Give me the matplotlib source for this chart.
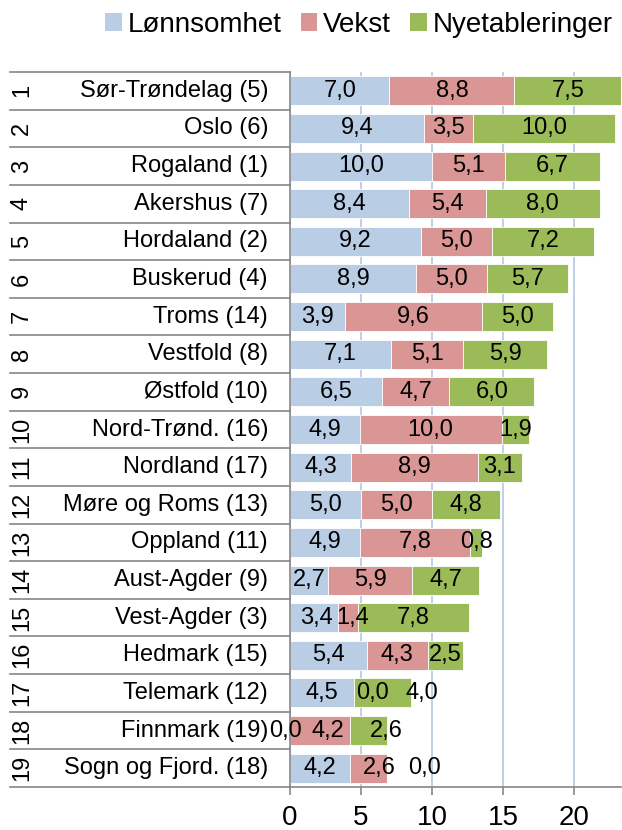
import matplotlib
matplotlib.use('Agg')
import matplotlib.pyplot as plt
from matplotlib.patches import Patch
from matplotlib.transforms import blended_transform_factory

plt.rcParams['font.family'] = ['Liberation Sans', 'DejaVu Sans']

# Fylker (rangering i parentes), sortert etter samlet poengsum
fylker = ['Sør-Trøndelag (5)', 'Oslo (6)', 'Rogaland (1)', 'Akershus (7)',
          'Hordaland (2)', 'Buskerud (4)', 'Troms (14)', 'Vestfold (8)',
          'Østfold (10)', 'Nord-Trønd. (16)', 'Nordland (17)',
          'Møre og Roms (13)', 'Oppland (11)', 'Aust-Agder (9)',
          'Vest-Agder (3)', 'Hedmark (15)', 'Telemark (12)',
          'Finnmark (19)', 'Sogn og Fjord. (18)']
rang = [str(i) for i in range(1, 20)]

lonnsomhet = [7.0, 9.4, 10.0, 8.4, 9.2, 8.9, 3.9, 7.1, 6.5, 4.9, 4.3, 5.0,
              4.9, 2.7, 3.4, 5.4, 4.5, 0.0, 4.2]
vekst = [8.8, 3.5, 5.1, 5.4, 5.0, 5.0, 9.6, 5.1, 4.7, 10.0, 8.9, 5.0,
         7.8, 5.9, 1.4, 4.3, 0.0, 4.2, 2.6]
nyetableringer = [7.5, 10.0, 6.7, 8.0, 7.2, 5.7, 5.0, 5.9, 6.0, 1.9, 3.1, 4.8,
                  0.8, 4.7, 7.8, 2.5, 4.0, 2.6, 0.0]

serier = ['Lønnsomhet', 'Vekst', 'Nyetableringer']
farger = ['#B9CDE5', '#D99694', '#9BBB59']

# forskyvning av enkelte verdietiketter (rad, serie) -> x
flytt = {(14, 0): 0.15, (14, 1): 0.3, (16, 1): 1.3, (16, 2): 2.8,
         (17, 0): -0.3, (17, 1): 0.6, (17, 2): 1.3,
         (18, 1): 0.8, (18, 2): 2.7}

W, H = 622, 830
fig = plt.figure(figsize=(W / 100, H / 100), dpi=100)
ax = fig.add_axes([290 / W, 1 - 787 / H, 331 / W, 715 / H])

y = list(range(len(fylker)))
venstre = [0.0] * len(fylker)
for s, (navn, verdier, farge) in enumerate(zip(serier, [lonnsomhet, vekst, nyetableringer], farger)):
    ax.barh(y, verdier, left=venstre, height=0.77, color=farge,
            edgecolor='white', linewidth=0.6, zorder=2, label=navn)
    for i, v in enumerate(verdier):
        xt = venstre[i] + v / 2 + flytt.get((i, s), 0)
        ax.text(xt, i, f'{v:.1f}'.replace('.', ','), ha='center', va='center',
                fontsize=17, color='black', zorder=3)
    venstre = [a + b for a, b in zip(venstre, verdier)]

ax.set_xlim(0, 23.3)
ax.set_ylim(len(fylker) - 0.5, -0.5)
ax.set_xticks([0, 5, 10, 15, 20])
ax.set_yticks([])
ax.xaxis.grid(True, color='#B9CDE5', linewidth=1.3, zorder=0)
ax.set_axisbelow(True)
ax.tick_params(axis='x', labelsize=20, length=6, width=1.2, color='#868686', pad=7)
for side in ['top', 'right']:
    ax.spines[side].set_visible(False)
for side in ['left', 'bottom']:
    ax.spines[side].set_color('#868686')
    ax.spines[side].set_linewidth(1.2)

# tabell med rangering og fylkesnavn til venstre
trans = blended_transform_factory(fig.transFigure, ax.transData)
for i in range(len(fylker) + 1):
    ax.plot([10 / W, 290 / W], [i - 0.5, i - 0.5], transform=trans,
            color='#868686', linewidth=1.2, clip_on=False)
for i, (r, f) in enumerate(zip(rang, fylker)):
    ax.text(22 / W, i, r, transform=trans, rotation=90, ha='center',
            va='center', fontsize=17)
    ax.text(268 / W, i, f, transform=trans, ha='right', va='center',
            fontsize=17)

handles = [Patch(facecolor=c, edgecolor='none') for c in farger]
fig.legend(handles, serier, loc='center right', bbox_to_anchor=(0.985, 1 - 25 / H),
           ncol=3, frameon=False, fontsize=20, handlelength=0.6,
           handleheight=0.6, handletextpad=0.2, columnspacing=0.7,
           borderaxespad=0, borderpad=0)

fig.savefig('out.png', dpi=100)
